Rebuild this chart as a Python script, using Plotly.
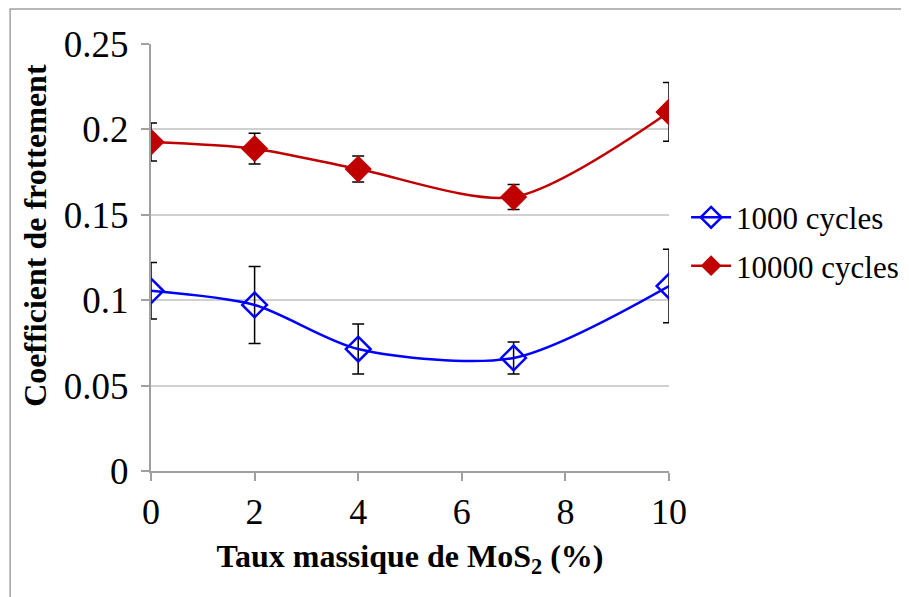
import plotly.graph_objects as go

x_vals = [0, 2, 4, 7, 10]
y_1000 = [0.1055, 0.0972, 0.0714, 0.0662, 0.1083]
err_1000 = [0.0165, 0.0225, 0.0146, 0.0094, 0.0215]
y_10000 = [0.1926, 0.1887, 0.1768, 0.1604, 0.2102]
err_10000 = [0.0111, 0.0090, 0.0076, 0.0073, 0.0172]
y_ticks = [0, 0.05, 0.1, 0.15, 0.2, 0.25]
y_tick_labels = ["0", "0.05", "0.1", "0.15", "0.2", "0.25"]
x_ticks = [0, 2, 4, 6, 8, 10]

FONT = "Liberation Serif"

fig = go.Figure()
fig.add_trace(go.Scatter(
    x=x_vals, y=y_1000, name="1000 cycles", mode="lines+markers", legendgroup="a",
    line=dict(color="#0000ff", width=2.5, shape="spline", smoothing=0.8),
    marker=dict(symbol="diamond-open", size=19, color="#0000ff", line=dict(width=2.5, color="#0000ff")),
    error_y=dict(type="data", array=err_1000, visible=True, color="black", thickness=1.5, width=6),
))
fig.add_trace(go.Scatter(
    x=x_vals, y=y_10000, name="10000 cycles", mode="lines+markers", legendgroup="b",
    line=dict(color="#c00000", width=2.5, shape="spline", smoothing=0.8),
    marker=dict(symbol="diamond", size=21, color="#c00000"),
    error_y=dict(type="data", array=err_10000, visible=True, color="black", thickness=1.5, width=6),
))

fig.update_layout(
    width=909, height=597,
    margin=dict(l=143, r=248, t=36, b=134, autoexpand=False),
    paper_bgcolor="white", plot_bgcolor="white",
    font=dict(family=FONT, size=34, color="black"),
    showlegend=True,
    legend=dict(x=1.033, y=0.537, xanchor="left", yanchor="middle",
                font=dict(family=FONT, size=31, color="black"),
                bgcolor="rgba(0,0,0,0)", tracegroupgap=5, itemwidth=40),
    xaxis=dict(
        range=[0, 10], tickvals=x_ticks, showgrid=False, zeroline=False,
        showline=True, linecolor="#a0a0a0", linewidth=1.5,
        ticks="outside", ticklen=8, tickcolor="#a0a0a0", tickwidth=1.5,
        tickfont=dict(family=FONT, size=36), automargin=False,
        title=dict(text="<b>Taux massique de MoS<sub>2</sub> (%)</b>", font=dict(family=FONT, size=32), standoff=14),
    ),
    yaxis=dict(
        range=[0, 0.25], tickvals=y_ticks, ticktext=y_tick_labels,
        showgrid=True, gridcolor="#d0d0d0", gridwidth=1.5, zeroline=False,
        showline=True, linecolor="#a0a0a0", linewidth=2,
        ticks="outside", ticklen=8, tickcolor="#a0a0a0", tickwidth=1.5,
        tickfont=dict(family=FONT, size=37), automargin=False, ticklabelstandoff=5,
    ),
    annotations=[dict(text="<b>Coefficient de frottement</b>", xref="paper", yref="paper",
                      x=-0.224, y=0.553, xanchor="center", yanchor="middle", textangle=-90,
                      showarrow=False, font=dict(family=FONT, size=32, color="black"))],
    shapes=[dict(type="rect", xref="paper", yref="paper",
                 x0=-0.272, x1=1.7, y0=-0.5, y1=1.082,
                 line=dict(color="#a0a0a0", width=1.5), fillcolor="rgba(0,0,0,0)", layer="below")],
)

fig.write_html("out.html")
